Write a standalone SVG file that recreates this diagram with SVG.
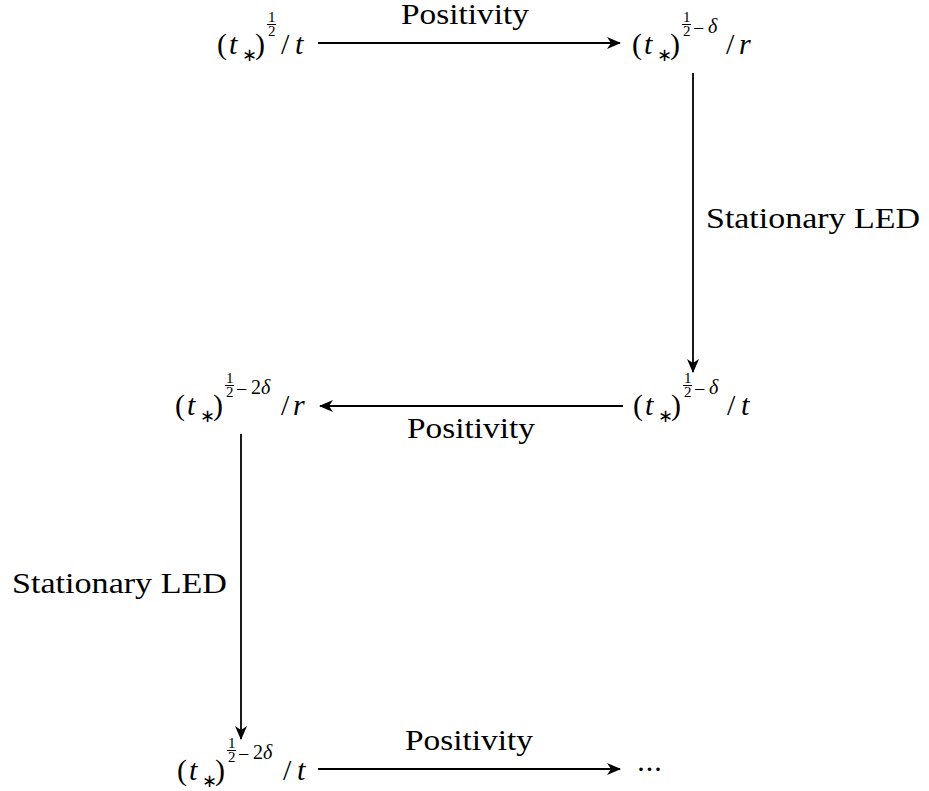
<svg xmlns="http://www.w3.org/2000/svg" width="929" height="791" viewBox="0 0 929 791">
<defs>
<marker id="ah" viewBox="0 0 14 12" refX="13" refY="6" markerWidth="14" markerHeight="12" orient="auto" markerUnits="userSpaceOnUse">
<path d="M0,0 L14,6 L0,12 L4,6 Z" fill="#000"/>
</marker>
</defs>
<rect width="929" height="791" fill="#fff"/>
<g id="connectors">
<line x1="318" y1="43" x2="620" y2="43" stroke="#000" stroke-width="1.8" marker-end="url(#ah)"/>
<line x1="693" y1="73" x2="693" y2="372" stroke="#000" stroke-width="1.8" marker-end="url(#ah)"/>
<line x1="623" y1="406" x2="320" y2="406" stroke="#000" stroke-width="1.8" marker-end="url(#ah)"/>
<line x1="241" y1="434" x2="241" y2="739" stroke="#000" stroke-width="1.8" marker-end="url(#ah)"/>
<line x1="318" y1="769" x2="620" y2="769" stroke="#000" stroke-width="1.8" marker-end="url(#ah)"/>
<text x="401" y="24" font-family="Times New Roman" font-size="30" textLength="128" lengthAdjust="spacingAndGlyphs">Positivity</text>
<text x="706" y="228" font-family="Times New Roman" font-size="30" textLength="214" lengthAdjust="spacingAndGlyphs">Stationary LED</text>
<text x="407" y="438" font-family="Times New Roman" font-size="30" textLength="128" lengthAdjust="spacingAndGlyphs">Positivity</text>
<text x="12" y="593" font-family="Times New Roman" font-size="30" textLength="215" lengthAdjust="spacingAndGlyphs">Stationary LED</text>
<text x="405" y="750" font-family="Times New Roman" font-size="30" textLength="128" lengthAdjust="spacingAndGlyphs">Positivity</text>
</g>
<g id="n1">
<text font-family="Times New Roman" font-size="30"><tspan x="217" y="54">(</tspan><tspan font-style="italic" x="229" y="54">t</tspan><tspan font-size="18" x="242" y="61">∗</tspan><tspan x="255" y="54">)</tspan><tspan font-size="15" x="268" y="22">1</tspan><tspan font-size="15" x="268" y="36">2</tspan><tspan x="281" y="54">/</tspan><tspan font-style="italic" x="295" y="54">t</tspan></text>
<line stroke="#000" stroke-width="1" x1="267" y1="24.5" x2="276" y2="24.5"/>
</g>
<g id="n2">
<text font-family="Times New Roman" font-size="30"><tspan x="632" y="54">(</tspan><tspan font-style="italic" x="644" y="54">t</tspan><tspan font-size="18" x="657" y="61">∗</tspan><tspan x="670" y="54">)</tspan><tspan font-size="15" x="683" y="22">1</tspan><tspan font-size="15" x="683" y="36">2</tspan><tspan font-size="20" x="693" y="35">−</tspan><tspan font-size="20" font-style="italic" x="708" y="33">δ</tspan><tspan x="726" y="54">/</tspan><tspan font-style="italic" x="739" y="54">r</tspan></text>
<line stroke="#000" stroke-width="1" x1="682" y1="24.5" x2="691" y2="24.5"/>
</g>
<g id="n3">
<text font-family="Times New Roman" font-size="30"><tspan x="633" y="415">(</tspan><tspan font-style="italic" x="645" y="415">t</tspan><tspan font-size="18" x="658" y="422">∗</tspan><tspan x="671" y="415">)</tspan><tspan font-size="15" x="684" y="383">1</tspan><tspan font-size="15" x="684" y="397">2</tspan><tspan font-size="20" x="694" y="396">−</tspan><tspan font-size="20" font-style="italic" x="709" y="394">δ</tspan><tspan x="727" y="415">/</tspan><tspan font-style="italic" x="741" y="415">t</tspan></text>
<line stroke="#000" stroke-width="1" x1="683" y1="385.5" x2="692" y2="385.5"/>
</g>
<g id="n4">
<text font-family="Times New Roman" font-size="30"><tspan x="175" y="415">(</tspan><tspan font-style="italic" x="187" y="415">t</tspan><tspan font-size="18" x="200" y="422">∗</tspan><tspan x="213" y="415">)</tspan><tspan font-size="15" x="226" y="383">1</tspan><tspan font-size="15" x="226" y="397">2</tspan><tspan font-size="20" x="236" y="396">−</tspan><tspan font-size="20" x="251" y="394">2</tspan><tspan font-size="20" font-style="italic" x="261" y="394">δ</tspan><tspan x="281" y="415">/</tspan><tspan font-style="italic" x="293" y="415">r</tspan></text>
<line stroke="#000" stroke-width="1" x1="225" y1="385.5" x2="234" y2="385.5"/>
</g>
<g id="n5">
<text font-family="Times New Roman" font-size="30"><tspan x="177" y="780">(</tspan><tspan font-style="italic" x="189" y="780">t</tspan><tspan font-size="18" x="202" y="787">∗</tspan><tspan x="215" y="780">)</tspan><tspan font-size="15" x="228" y="748">1</tspan><tspan font-size="15" x="228" y="762">2</tspan><tspan font-size="20" x="238" y="761">−</tspan><tspan font-size="20" x="253" y="759">2</tspan><tspan font-size="20" font-style="italic" x="263" y="759">δ</tspan><tspan x="283" y="780">/</tspan><tspan font-style="italic" x="297" y="780">t</tspan></text>
<line stroke="#000" stroke-width="1" x1="227" y1="750.5" x2="236" y2="750.5"/>
</g>
<g id="n6">
<text font-family="Times New Roman" font-size="30" x="636" y="779" textLength="27" lengthAdjust="spacing">···</text>
</g>
</svg>
